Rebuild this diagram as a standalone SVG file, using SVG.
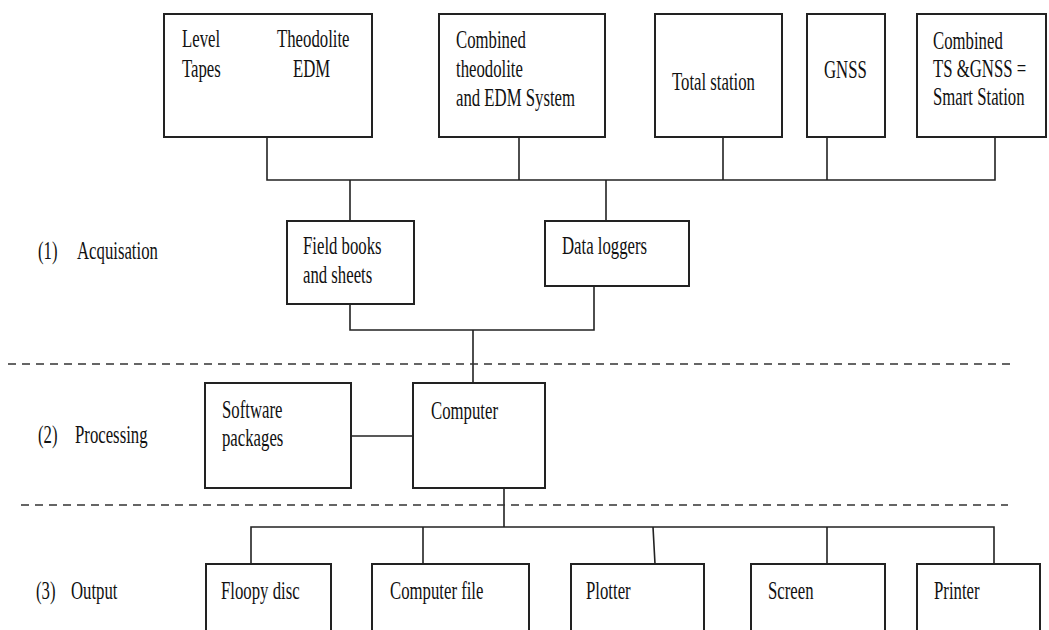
<svg xmlns="http://www.w3.org/2000/svg" width="1049" height="630" viewBox="0 0 1049 630">
<style>
.box{fill:#fff;stroke:#222;stroke-width:2}
.ln{fill:none;stroke:#222;stroke-width:1.6}
.dash{fill:none;stroke:#333;stroke-width:1.6;stroke-dasharray:8 6}
text{font-family:"Liberation Serif","Times New Roman",serif;font-size:25px;fill:#111}
</style>
<rect width="1049" height="630" fill="#fff"/>
<g id="connectors">
<path class="ln" d="M267 137V180H995V137M519 137V180M723 137V180M827 137V180"/>
<path class="ln" d="M350 180V221M606 180V221"/>
<path class="ln" d="M350 304V330H594V286M473 330V383"/>
<path class="ln" d="M351 436H413"/>
<path class="ln" d="M504 488V527M251 564V527H994V564M423 527V564M653 527L655 564M827 527V564"/>
</g>
<g id="separators">
<path class="dash" d="M8 364H1010"/>
<path class="dash" d="M21 505H1008"/>
</g>
<g id="stage-labels">
<text transform="translate(38,259) scale(0.67,1)">(1)</text>
<text transform="translate(77,259) scale(0.67,1)">Acquisation</text>
<text transform="translate(38,443) scale(0.67,1)">(2)</text>
<text transform="translate(75,443) scale(0.67,1)">Processing</text>
<text transform="translate(36,599) scale(0.67,1)">(3)</text>
<text transform="translate(71,599) scale(0.67,1)">Output</text>
</g>
<g id="node-level-theodolite">
<rect class="box" x="164" y="14" width="208" height="123"/>
<text transform="translate(182,47) scale(0.67,1)">Level</text>
<text transform="translate(182,77) scale(0.67,1)">Tapes</text>
<text transform="translate(277,47) scale(0.67,1)">Theodolite</text>
<text transform="translate(293,77) scale(0.67,1)">EDM</text>
</g>
<g id="node-combined-theodolite">
<rect class="box" x="439" y="14" width="166" height="123"/>
<text transform="translate(456,48) scale(0.67,1)">Combined</text>
<text transform="translate(456,77) scale(0.67,1)">theodolite</text>
<text transform="translate(456,106) scale(0.67,1)">and EDM System</text>
</g>
<g id="node-total-station">
<rect class="box" x="655" y="14" width="127" height="123"/>
<text transform="translate(672,90) scale(0.67,1)">Total station</text>
</g>
<g id="node-gnss">
<rect class="box" x="807" y="14" width="78" height="123"/>
<text transform="translate(824,78) scale(0.67,1)">GNSS</text>
</g>
<g id="node-smart-station">
<rect class="box" x="917" y="14" width="129" height="123"/>
<text transform="translate(933,49) scale(0.67,1)">Combined</text>
<text transform="translate(933,77) scale(0.67,1)">TS &amp;GNSS =</text>
<text transform="translate(933,105) scale(0.67,1)">Smart Station</text>
</g>
<g id="node-field-books">
<rect class="box" x="287" y="221" width="127" height="83"/>
<text transform="translate(303,254) scale(0.67,1)">Field books</text>
<text transform="translate(303,283) scale(0.67,1)">and sheets</text>
</g>
<g id="node-data-loggers">
<rect class="box" x="545" y="221" width="144" height="65"/>
<text transform="translate(562,254) scale(0.67,1)">Data loggers</text>
</g>
<g id="node-software">
<rect class="box" x="205" y="383" width="146" height="105"/>
<text transform="translate(222,418) scale(0.67,1)">Software</text>
<text transform="translate(222,446) scale(0.67,1)">packages</text>
</g>
<g id="node-computer">
<rect class="box" x="413" y="383" width="132" height="105"/>
<text transform="translate(431,419) scale(0.67,1)">Computer</text>
</g>
<g id="node-floppy">
<rect class="box" x="206" y="564" width="125" height="80"/>
<text transform="translate(221,599) scale(0.67,1)">Floopy disc</text>
</g>
<g id="node-computer-file">
<rect class="box" x="372" y="564" width="157" height="80"/>
<text transform="translate(390,599) scale(0.67,1)">Computer file</text>
</g>
<g id="node-plotter">
<rect class="box" x="571" y="564" width="133" height="80"/>
<text transform="translate(586,599) scale(0.67,1)">Plotter</text>
</g>
<g id="node-screen">
<rect class="box" x="751" y="564" width="134" height="80"/>
<text transform="translate(768,599) scale(0.67,1)">Screen</text>
</g>
<g id="node-printer">
<rect class="box" x="917" y="564" width="123" height="80"/>
<text transform="translate(934,599) scale(0.67,1)">Printer</text>
</g>
</svg>
